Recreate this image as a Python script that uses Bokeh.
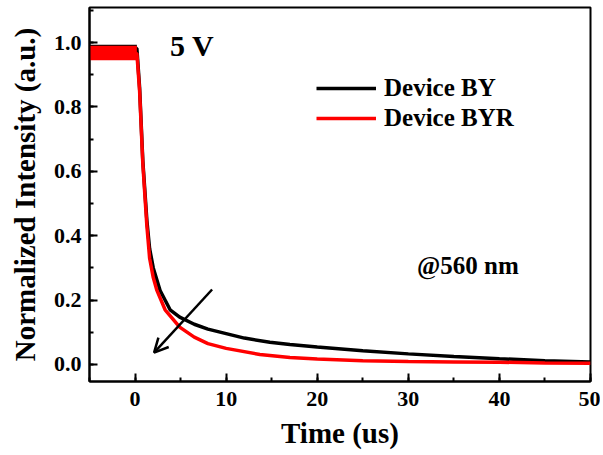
from bokeh.plotting import figure
from bokeh.models import (Range1d, SingleIntervalTicker, Legend, LegendItem, Label,
                          Arrow, OpenHead, NumeralTickFormatter)
from bokeh.embed import file_html
from bokeh.resources import INLINE

# ---- data ----
by_t = [-5, 0.2, 0.5, 0.85, 1.3, 1.6, 2.0, 2.75, 3.85, 4.9, 6.5, 8, 10, 12, 14.8,
        17, 20, 25, 30, 35, 40, 45, 50]
by_v = [0.982, 0.982, 0.86, 0.634, 0.447, 0.36, 0.30, 0.23, 0.17, 0.147, 0.125, 0.11,
        0.096, 0.082, 0.069, 0.062, 0.054, 0.043, 0.033, 0.025, 0.018, 0.012, 0.008]
byr_t = [-5, 0.2, 0.5, 0.85, 1.3, 1.6, 2.0, 2.4, 3.3, 4.9, 6.5, 8, 10, 13.7,
         17, 20, 25, 30, 35, 40, 45, 50]
byr_v = [0.966, 0.966, 0.85, 0.625, 0.43, 0.33, 0.27, 0.23, 0.17, 0.116, 0.085, 0.065,
         0.05, 0.031, 0.022, 0.017, 0.012, 0.009, 0.008, 0.007, 0.005, 0.004]
# noise envelope of the flat (pre-turn-off) part
flat_t = [-5, 0.2]
by_flat_lo = [0.962, 0.962]
by_flat_hi = [0.993, 0.993]
byr_flat_lo = [0.945, 0.945]
byr_flat_hi = [0.99, 0.99]

series_names = ["Device BY", "Device BYR"]
arrow_start = (8.46, 0.233)
arrow_end = (2.09, 0.037)

FONT = "Liberation Serif"

p = figure(width=600, height=452, output_backend="svg", toolbar_location=None,
           x_range=Range1d(-5, 50), y_range=Range1d(-0.0528, 1.1087),
           min_border_left=89, min_border_right=10, min_border_top=7, min_border_bottom=71)

p.grid.visible = False
p.outline_line_color = "black"
p.outline_line_width = 2
p.background_fill_color = "white"
p.border_fill_color = "white"

# black
p.varea(x=flat_t, y1=by_flat_lo, y2=by_flat_hi, color="black")
l1 = p.line(by_t, by_v, line_color="black", line_width=3.5)
# red
p.varea(x=flat_t, y1=byr_flat_lo, y2=byr_flat_hi, color="#ff0000")
l2 = p.line(byr_t, byr_v, line_color="#ff0000", line_width=3.5)

for ax in (p.xaxis[0], p.yaxis[0]):
    ax.axis_line_width = 2
    ax.major_tick_line_width = 2
    ax.minor_tick_line_width = 2
    ax.major_tick_in = 8
    ax.major_tick_out = 0
    ax.minor_tick_in = 4
    ax.minor_tick_out = 0
    ax.major_label_text_font = FONT
    ax.major_label_text_font_style = "bold"
    ax.major_label_text_font_size = "22px"
    ax.major_label_text_color = "black"
    ax.axis_label_text_font = FONT
    ax.axis_label_text_font_style = "bold"
    ax.axis_label_text_font_size = "29px"
    ax.axis_label_text_color = "black"

p.xaxis.ticker = SingleIntervalTicker(interval=10, num_minor_ticks=2)
p.yaxis.ticker = SingleIntervalTicker(interval=0.2, num_minor_ticks=2)
p.yaxis.formatter = NumeralTickFormatter(format="0.0")
p.xaxis.major_label_standoff = 10
p.yaxis.major_label_standoff = 8
p.xaxis.axis_label = "Time (us)"
p.yaxis.axis_label = "Normalized Intensity (a.u.)"
p.xaxis.axis_label_standoff = 8
p.yaxis.axis_label_standoff = 10

legend = Legend(items=[LegendItem(label=series_names[0], renderers=[l1]),
                       LegendItem(label=series_names[1], renderers=[l2])],
                location=(227, 249), border_line_color=None, background_fill_alpha=0,
                glyph_width=60, glyph_height=26, label_height=26, spacing=2,
                padding=0, margin=0, label_standoff=8,
                label_text_font=FONT, label_text_font_style="bold",
                label_text_font_size="25px", label_text_color="black")
p.add_layout(legend)

p.add_layout(Label(x=3.85, y=0.99, text="5 V", text_font=FONT, text_font_style="bold",
                   text_font_size="30px", text_baseline="middle", text_color="black"))
p.add_layout(Label(x=30.95, y=0.306, text="@560 nm", text_font=FONT, text_font_style="bold",
                   text_font_size="25px", text_baseline="middle", text_color="black"))
p.add_layout(Arrow(end=OpenHead(size=14, line_width=2.5, line_color="black"),
                   x_start=arrow_start[0], y_start=arrow_start[1],
                   x_end=arrow_end[0], y_end=arrow_end[1],
                   line_width=2.5, line_color="black"))

open("out.html", "w").write(file_html(p, INLINE))
